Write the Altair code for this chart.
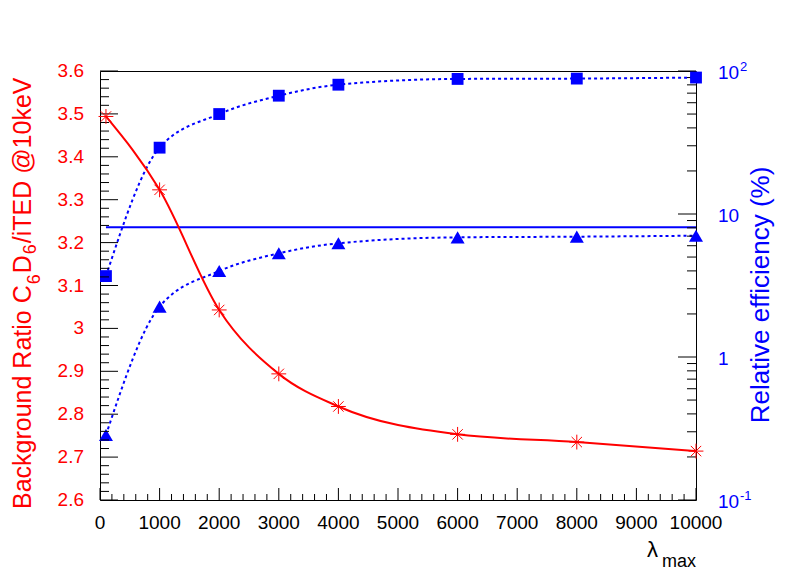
import altair as alt
import pandas as pd

# ---------------- data ----------------
lam = [100, 1000, 2000, 3000, 4000, 6000, 8000, 10000]
bg_ratio = [3.494, 3.323, 3.043, 2.894, 2.818, 2.753, 2.735, 2.714]
eff_square = [3.68, 29.1, 50.0, 67.2, 80.2, 88.0, 88.5, 90.0]
eff_triangle = [0.285, 2.25, 3.99, 5.31, 6.24, 6.87, 6.94, 7.05]
ref_lam = [100, 10000]
ref_eff = [8.07, 8.07]

x_major = [0, 1000, 2000, 3000, 4000, 5000, 6000, 7000, 8000, 9000, 10000]
x_labels = ["0", "1000", "2000", "3000", "4000", "5000", "6000", "7000", "8000", "9000", "10000"]
x_minor = [v for v in range(0, 10001, 200) if v % 1000 != 0]
left_major = [2.6, 2.7, 2.8, 2.9, 3.0, 3.1, 3.2, 3.3, 3.4, 3.5, 3.6]
left_labels = ["2.6", "2.7", "2.8", "2.9", "3", "3.1", "3.2", "3.3", "3.4", "3.5", "3.6"]
left_minor = [round(2.6 + 0.02 * i, 2) for i in range(51) if i % 5 != 0]
right_major = [0.1, 1, 10, 100]
right_labels = ["10", "1", "10", "10"]
right_exponents = ["-1", "", "", "2"]
right_minor = [round(m * d, 3) for d in (0.1, 1, 10) for m in range(2, 10)]

# left title "Background Ratio C_6 D_6/iTED @10keV" as (text, is_subscript)
left_title_parts = [("Background Ratio C", False), ("6", True), ("D", False), ("6", True),
                    ("/iTED @10keV", False)]
right_title = "Relative efficiency (%)"

# ---------------- style ----------------
W, H = 596, 429
FONT = "Liberation Sans"
RED = "#ff0000"
BLUE = "#0000ff"
ASTERISK = "M-1,0L1,0M0,-1L0,1M-0.7,-0.7L0.7,0.7M-0.7,0.7L0.7,-0.7"
LAB = 19

xscale = alt.Scale(domain=[0, 10000], nice=False, zero=False)
lscale = alt.Scale(domain=[2.6, 3.6], nice=False, zero=False)
rscale = alt.Scale(type="log", domain=[0.1, 100], nice=False)

df_bg = pd.DataFrame({"lam": lam, "val": bg_ratio})
df_sq = pd.DataFrame({"lam": lam, "val": eff_square})
df_tri = pd.DataFrame({"lam": lam, "val": eff_triangle})
df_ref = pd.DataFrame({"lam": ref_lam, "val": ref_eff})


def X(field="lam"):
    return alt.X(f"{field}:Q", scale=xscale, axis=None)


def Y(scale, field="val"):
    return alt.Y(f"{field}:Q", scale=scale, axis=None)


def tick_x(vals, length):
    d = pd.DataFrame({"v": vals})
    return alt.Chart(d).mark_rule(color="black", strokeWidth=1).encode(
        x=X("v"), y=alt.value(H), y2=alt.value(H - length))


def tick_y(vals, scale, x0, x1):
    d = pd.DataFrame({"v": vals})
    return alt.Chart(d).mark_rule(color="black", strokeWidth=1).encode(
        y=Y(scale, "v"), x=alt.value(x0), x2=alt.value(x1))


def text_at(txt, x, y, size, color, align="center", baseline="middle", angle=0):
    d = pd.DataFrame({"t": [txt]})
    kw = dict(font=FONT, fontSize=size, align=align, baseline=baseline, color=color)
    if angle:
        kw["angle"] = angle
    return alt.Chart(d).mark_text(**kw).encode(text="t:N", x=alt.value(x), y=alt.value(y))


# ---------------- left group (background ratio) ----------------
red_line = alt.Chart(df_bg).mark_line(color=RED, strokeWidth=2, interpolate="monotone").encode(
    x=X(), y=Y(lscale))
red_pts = alt.Chart(df_bg).mark_point(shape=ASTERISK, size=220, filled=False, color=RED,
                                      strokeWidth=1, opacity=1).encode(x=X(), y=Y(lscale))
left_lab = alt.Chart(pd.DataFrame({"v": left_major, "t": left_labels})).mark_text(
    font=FONT, fontSize=LAB, align="right", baseline="middle", color=RED).encode(
    y=Y(lscale, "v"), x=alt.value(-16), text="t:N")
x_lab = alt.Chart(pd.DataFrame({"v": x_major, "t": x_labels})).mark_text(
    font=FONT, fontSize=LAB, align="center", baseline="middle", color="black").encode(
    x=X("v"), y=alt.value(H + 23), text="t:N")

left = alt.layer(
    red_line,
    tick_y(left_major, lscale, 0, 18),
    tick_y(left_minor, lscale, 0, 9),
    tick_x(x_major, 12),
    tick_x(x_minor, 6),
    left_lab,
    x_lab,
    red_pts,
)

# ---------------- right group (efficiency, log) ----------------
def blue_curve(df, dashed=True):
    kw = dict(color=BLUE, strokeWidth=2, interpolate="monotone")
    if dashed:
        kw["strokeDash"] = [3, 3]
    return alt.Chart(df).mark_line(**kw).encode(x=X(), y=Y(rscale))


sq_pts = alt.Chart(df_sq).mark_point(shape="square", size=140, filled=True, color=BLUE,
                                     strokeWidth=0, opacity=1).encode(x=X(), y=Y(rscale))
tri_pts = alt.Chart(df_tri).mark_point(shape="triangle-up", size=196, filled=True, color=BLUE,
                                       strokeWidth=0, opacity=1).encode(x=X(), y=Y(rscale))
df_rlab = pd.DataFrame({"v": right_major, "t": right_labels, "e": right_exponents})
right_lab = alt.Chart(df_rlab).mark_text(
    font=FONT, fontSize=LAB, align="left", baseline="middle", color=BLUE, dy=2).encode(
    y=Y(rscale, "v"), x=alt.value(W + 22), text="t:N")
right_exp = alt.Chart(df_rlab).mark_text(
    font=FONT, fontSize=13, align="left", baseline="middle", color=BLUE, dy=-4).encode(
    y=Y(rscale, "v"), x=alt.value(W + 44), text="e:N")

right = alt.layer(
    blue_curve(df_sq),
    blue_curve(df_tri),
    blue_curve(df_ref, dashed=False),
    tick_y(right_major, rscale, W, W - 18),
    tick_y(right_minor, rscale, W, W - 9),
    right_lab,
    right_exp,
    sq_pts,
    tri_pts,
)

# ---------------- titles ----------------
# rotated left title, built piece by piece (reads bottom to top)
title_layers = []
pos = 438.0            # start (bottom end) of the title, plot pixels
base_x = -69           # baseline of the main text
sub_shift = [9, 5]     # how far each subscript is lowered
k = 0
for txt, is_sub in left_title_parts:
    size = 18 if is_sub else 25
    width_em = {"Background Ratio C": 8.948, "D": 0.722, "6": 0.556, "/iTED @10keV": 6.628}[txt]
    if is_sub:
        bx = base_x + sub_shift[k]
        k += 1
        pos -= 1
    else:
        bx = base_x
    title_layers.append(text_at(txt, bx, pos, size, RED, align="left",
                                baseline="alphabetic", angle=270))
    pos -= width_em * size + (1 if is_sub else 0)

titles = alt.layer(
    *title_layers,
    text_at(right_title, W + 65, 224, 26, BLUE, angle=270),
    text_at("\u03bb", W - 38, 486, 22, "black", align="right", baseline="alphabetic"),
    text_at("max", W, 496, 18, "black", align="right", baseline="alphabetic"),
)

chart = alt.layer(right, left, titles).resolve_scale(y="independent").properties(
    width=W, height=H,
    autosize=alt.AutoSizeParams(type="none"),
    padding={"left": 92, "top": 63, "right": 92, "bottom": 72},
    background="white",
).configure_view(stroke="black", strokeWidth=1)

chart.save("out.html", embed_options={"renderer": "svg", "actions": False})
